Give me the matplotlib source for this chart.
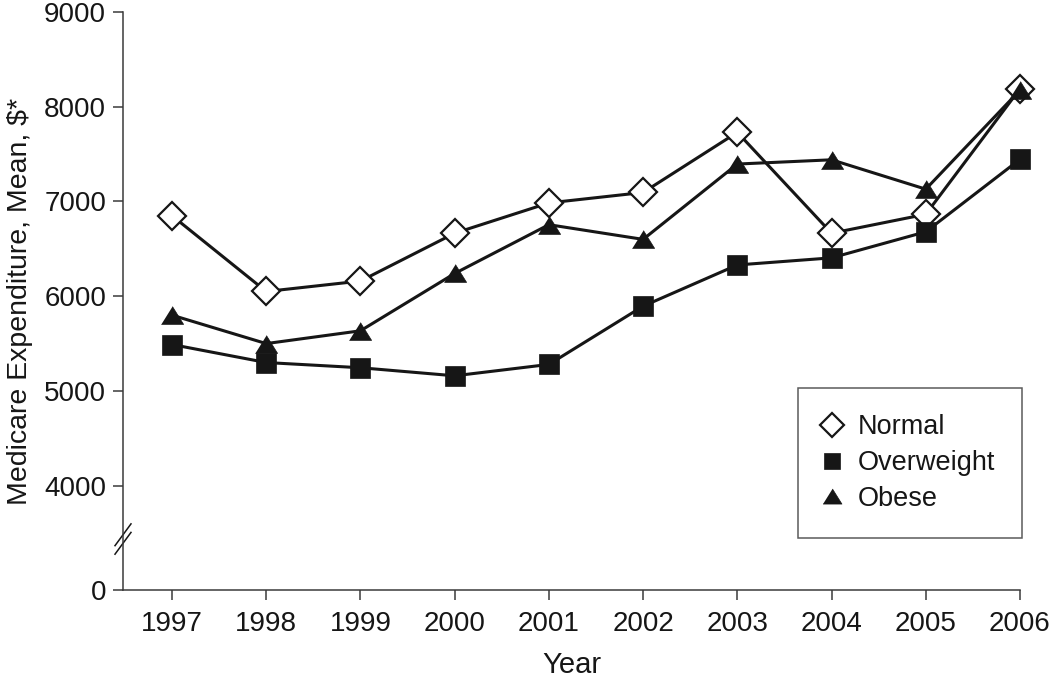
import matplotlib
matplotlib.use("Agg")
import matplotlib.pyplot as plt
from matplotlib.lines import Line2D
import matplotlib.transforms as mtrans

plt.rcParams['font.family'] = ['Liberation Sans', 'DejaVu Sans']

years = [1997, 1998, 1999, 2000, 2001, 2002, 2003, 2004, 2005, 2006]
normal = [6850, 6050, 6160, 6665, 6985, 7095, 7730, 6665, 6865, 8190]
overweight = [5490, 5300, 5245, 5160, 5280, 5895, 6330, 6405, 6680, 7445]
obese = [5800, 5500, 5635, 6240, 6755, 6600, 7395, 7440, 7130, 8175]
series_names = ["Normal", "Overweight", "Obese"]
ytick_values = [4000, 5000, 6000, 7000, 8000, 9000]
xtick_labels = [str(y) for y in years]

# position on the (broken) axis where "0" is drawn
ZERO_POS = 2899
BREAK_POS = 3437

ink = '#161616'
spine_c = '#3a3a3a'

fig = plt.figure(figsize=(10.5, 6.8), dpi=100)
ax = fig.add_axes([123/1050, 1-590/680, (1020-123)/1050, (590-12)/680])

tri = [(-1, -0.8), (1, -0.8), (0, 0.8)]
styles = [
    dict(marker='D', ms=14.0, mfc='white', mec=ink, mew=1.6),
    dict(marker='s', ms=14.2, mfc=ink, mec=ink, mew=0.5),
    dict(marker=tri, ms=16.0, mfc=ink, mec=ink, mew=0.5),
]
for vals, st in zip([normal, overweight, obese], styles):
    ax.plot(years, vals, color=ink, lw=2.2, clip_on=False, **st)

ax.set_xlim(1996.48, 2006)
ax.set_ylim(ZERO_POS, 9000)
ax.set_xticks(years)
ax.set_xticklabels(xtick_labels)
ax.set_yticks([ZERO_POS] + ytick_values)
ax.set_yticklabels(['0'] + [str(v) for v in ytick_values])

for s in ['top', 'right']:
    ax.spines[s].set_visible(False)
for s in ['left', 'bottom']:
    ax.spines[s].set_color(spine_c)
    ax.spines[s].set_linewidth(1.1)
ax.tick_params(axis='both', direction='out', length=7.2, width=1.1, color=spine_c,
               labelsize=20, labelcolor=ink)
ax.tick_params(axis='x', pad=8)
ax.tick_params(axis='y', pad=5)

ax.set_xlabel('Year', fontsize=21, color=ink, labelpad=10)
ax.set_ylabel('Medicare Expenditure, Mean, \\$*', fontsize=20.5, color=ink, labelpad=8)

# break marks
trans = mtrans.blended_transform_factory(ax.transAxes, ax.transData)
dx = 8/897
for off in (-45, 45):
    ax.plot([-dx, dx], [BREAK_POS - 115 + off, BREAK_POS + 115 + off], color=ink,
            lw=1.1, transform=trans, clip_on=False)

handles = [Line2D([], [], ls='none', color=ink, **st) for st in styles]
leg = ax.legend(handles, series_names, loc='upper left', bbox_to_anchor=(0.7525, 0.3495),
                frameon=True, fancybox=False, edgecolor='#333333', fontsize=19.5,
                borderaxespad=0, borderpad=0.97, labelspacing=0.36, handlelength=0.55,
                handletextpad=0.7, markerscale=0.85)
leg.get_frame().set_linewidth(1.1)
for t in leg.get_texts():
    t.set_color(ink)

fig.savefig('out.png', dpi=100, facecolor='white')
